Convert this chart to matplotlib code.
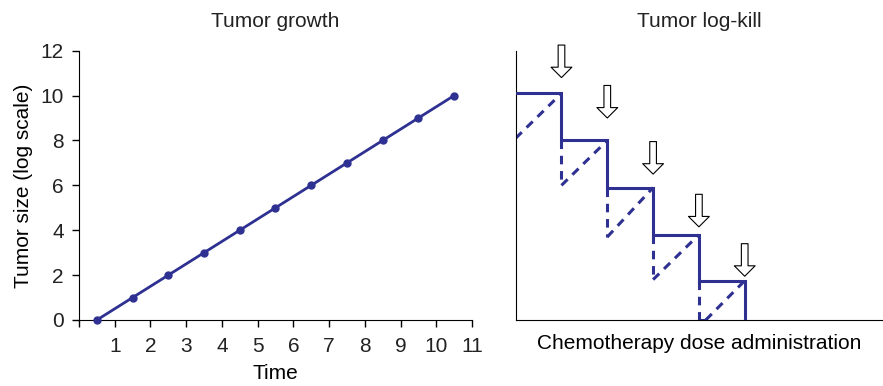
import matplotlib
matplotlib.use("Agg")
import matplotlib.pyplot as plt
from matplotlib.patches import FancyArrowPatch

plt.rcParams["font.family"] = ["Liberation Sans", "DejaVu Sans"]
plt.rcParams["text.color"] = "#222222"
plt.rcParams["xtick.labelcolor"] = "#222222"
plt.rcParams["ytick.labelcolor"] = "#222222"

BLUE = "#2e3192"
FS = 15

# left panel: exponential growth on a log axis
time = [0.5, 1.5, 2.5, 3.5, 4.5, 5.5, 6.5, 7.5, 8.5, 9.5, 10.5]
tumor_size = [0, 1, 2, 3, 4, 5, 6, 7, 8, 9, 10]

# right panel: log-kill with regrowth between doses
dose_x = [1, 2, 3, 4, 5]
step_level = [10.1, 8.0, 5.9, 3.8, 1.75]      # solid step tops
trough_x = [0, 1, 2, 3, 4.15]                 # start of each regrowth leg
trough_y = [8.1, 6.0, 3.7, 1.8, 0.0]
arrow_tip = [10.8, 9.0, 6.5, 4.15, 1.95]
arrow_len = 1.45

fig = plt.figure(figsize=(8.83, 3.86), dpi=100)
ax1 = fig.add_axes([0.0895, 0.171, 0.445, 0.6977])
ax2 = fig.add_axes([0.584, 0.171, 0.415, 0.6977])

# ── left ──
ax1.plot(time, tumor_size, "-o", color=BLUE, lw=2, ms=5, clip_on=False, zorder=3)
ax1.set_xlim(0, 11)
ax1.set_ylim(0, 12)
ax1.set_xticks(range(0, 12))
ax1.set_xticklabels([""] + [str(i) for i in range(1, 12)])
ax1.set_yticks(range(0, 13, 2))
for s in ("top", "right"):
    ax1.spines[s].set_visible(False)
ax1.tick_params(labelsize=FS, length=5, width=1)
ax1.tick_params(axis="x", pad=7)
ax1.tick_params(axis="y", pad=6)
ax1.set_xlabel("Time", fontsize=FS, labelpad=6)
ax1.set_ylabel("Tumor size (log scale)", fontsize=FS, labelpad=5)
ax1.set_title("Tumor growth", fontsize=FS, pad=17)

# ── right ──
sx, sy = [0], [step_level[0]]
for i, x in enumerate(dose_x):
    sx += [x, x]
    nxt = step_level[i + 1] if i + 1 < len(step_level) else 0
    sy += [step_level[i], nxt]
ax2.plot(sx, sy, "-", color=BLUE, lw=2.2, solid_joinstyle="miter", zorder=3)

dash = dict(color=BLUE, lw=2.2, ls=(0, (2.8, 2.2)))
for i in range(len(dose_x)):
    ax2.plot([trough_x[i], dose_x[i]], [trough_y[i], step_level[i]], **dash)
    if i > 0:
        ax2.plot([dose_x[i - 1], dose_x[i - 1]], [step_level[i], trough_y[i]], **dash)
# short flat leg along the floor before the last regrowth
ax2.plot([dose_x[3], trough_x[4]], [0, 0], **dash)

for x, tip in zip(dose_x, arrow_tip):
    arr = FancyArrowPatch((x, tip + arrow_len), (x, tip),
                          arrowstyle="simple,head_length=7.5,head_width=15,tail_width=4.8",
                          mutation_scale=1, shrinkA=0, shrinkB=0,
                          fc="white", ec="black", lw=0.8, clip_on=False, zorder=4)
    ax2.add_patch(arr)

ax2.set_xlim(0, 8)
ax2.set_ylim(0, 12)
ax2.set_xticks([])
ax2.set_yticks([])
for s in ("top", "right"):
    ax2.spines[s].set_visible(False)
ax2.set_xlabel("Chemotherapy dose administration", fontsize=FS, labelpad=10)
ax2.set_title("Tumor log-kill", fontsize=FS, pad=17)

fig.savefig("out.png", dpi=100)
